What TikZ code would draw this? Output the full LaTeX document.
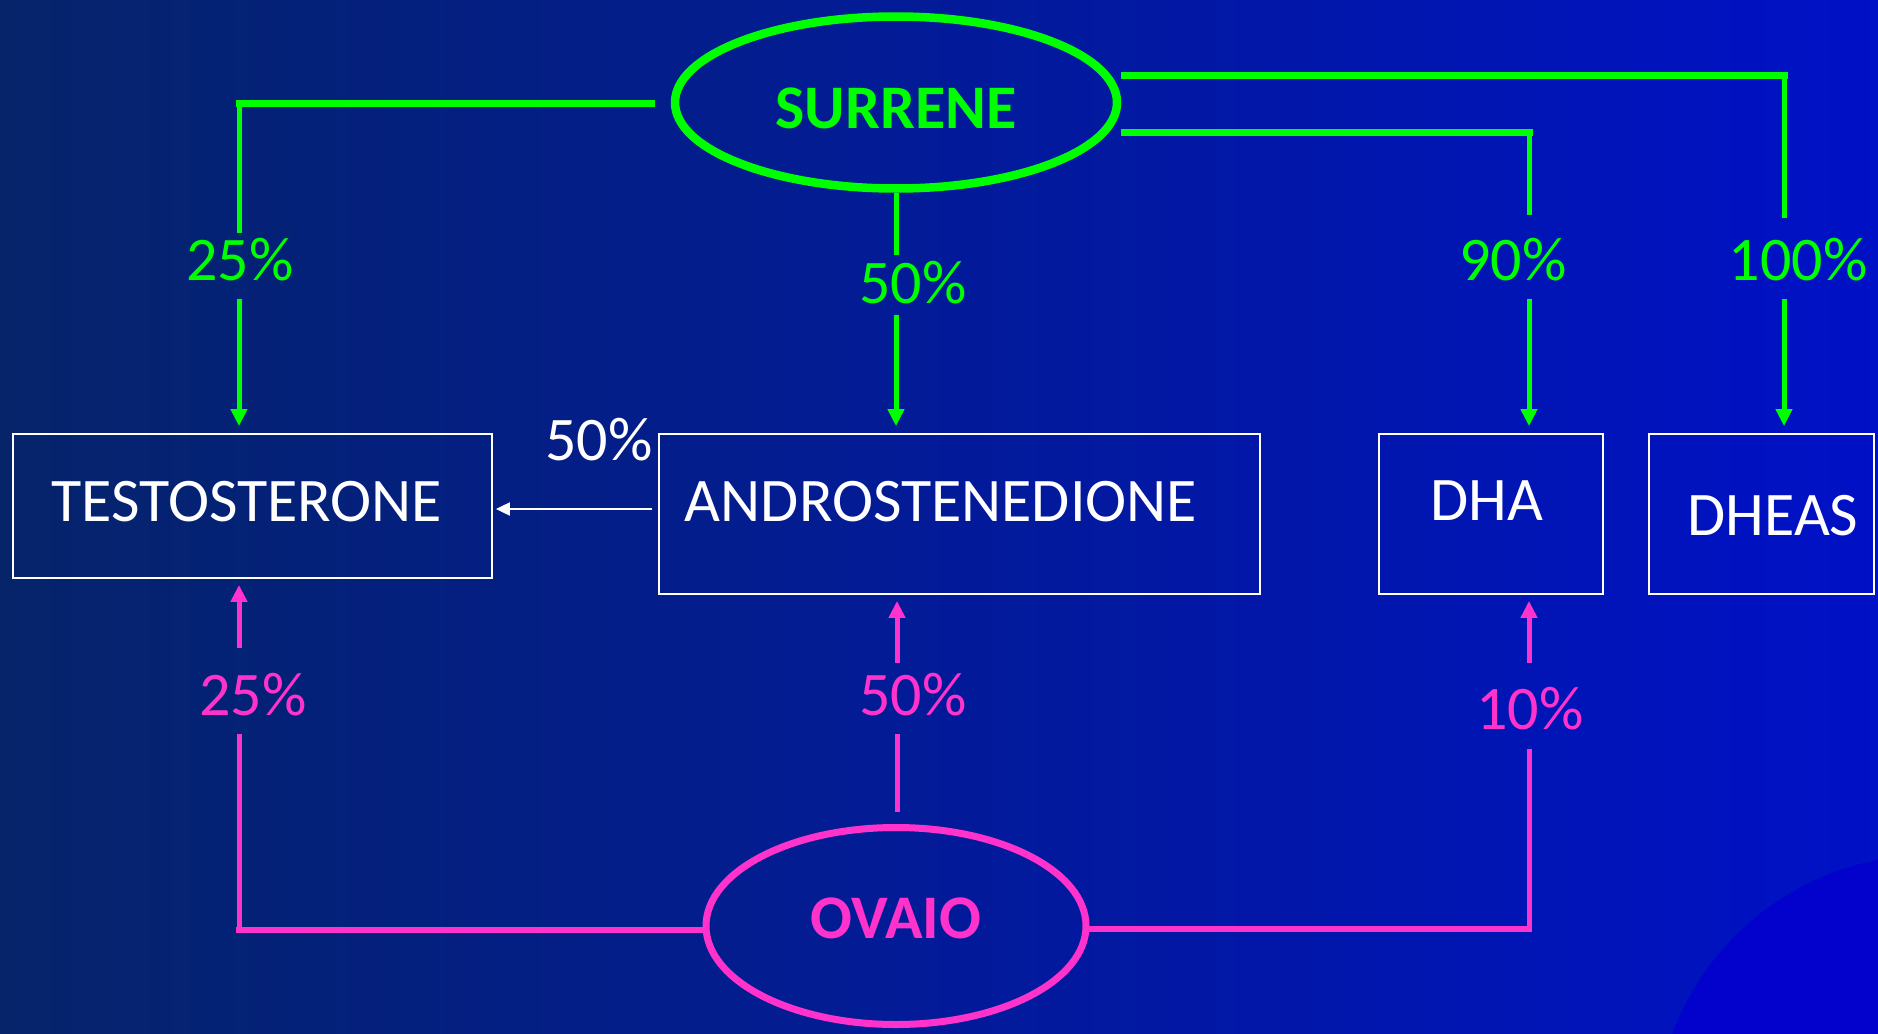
\documentclass[tikz,border=0pt]{standalone}
\usepackage{fontspec}
\setmainfont{Carlito}
\usetikzlibrary{arrows.meta,shapes.geometric,calc}
\definecolor{bgL}{HTML}{05246A}
\definecolor{bgM}{HTML}{001B9E}
\definecolor{bgR}{HTML}{0011C6}
\definecolor{bgC}{HTML}{0202CC}
\definecolor{grn}{HTML}{00FF00}
\definecolor{pnk}{HTML}{FF33CC}
\begin{document}
\begin{tikzpicture}[x=1pt,y=-1pt,
  txt/.style={font=\fontsize{62}{70}\selectfont, inner sep=0pt, anchor=base},
  btxt/.style={font=\fontsize{62}{70}\selectfont\bfseries},
  box/.style={draw=white, line width=1.8pt, rectangle, inner sep=0pt},
  gh/.style={draw=grn, line width=7pt, line cap=rect},
  gv/.style={draw=grn, line width=5pt},
  garr/.style={gv, -{Triangle[width=16pt,length=17pt]}, shorten >=7pt},
  ph/.style={draw=pnk, line width=5.5pt, line cap=rect},
  pv/.style={draw=pnk, line width=5pt},
  parr/.style={pv, -{Triangle[width=16pt,length=17pt]}, shorten >=6pt},
  warr/.style={draw=white, line width=2pt, -{Triangle[width=13pt,length=14pt]}, shorten >=3pt}
]
\useasboundingbox (0,0) rectangle (1878,1033);
\shade[left color=bgL, middle color=bgM, right color=bgR] (0,0) rectangle (1878,1033);
\fill[bgC] (1930,1130) circle (275);

% ellipses
\node[ellipse, draw=grn, line width=8.5pt, minimum width=442pt, minimum height=172pt,
      inner sep=0pt, text=grn, btxt, text height=51pt, text depth=0pt] (sur) at (896,102.5) {SURRENE\hspace{12pt}};
\node[ellipse, draw=pnk, line width=7pt, minimum width=380pt, minimum height=197pt,
      inner sep=0pt, text=pnk, btxt, text height=40pt, text depth=16pt] (ova) at (896,926) {OVAIO\hspace{22pt}};

% boxes
\node[box, minimum width=479pt, minimum height=144pt] (testo) at (252.5,506) {};
\node[box, minimum width=601pt, minimum height=160pt] (andro) at (959.5,514) {};
\node[box, minimum width=224pt, minimum height=160pt] (dha) at (1491,514) {};
\node[box, minimum width=225pt, minimum height=160pt] (dheas) at (1761.5,514) {};

\node[txt, text=white] (testot) at (247,521) {TESTOSTERONE};
\node[txt, text=white] (androt) at (941,521) {ANDROSTENEDIONE};
\node[txt, text=white] (dhat) at (1487,520) {DHA};
\node[txt, text=white] (dheast) at (1773,535) {DHEAS};

% labels
\node[txt, text=grn] (g25) at (240,280) {25\%};
\node[txt, text=grn] (g50) at (913,303) {50\%};
\node[txt, text=grn] (g90) at (1513,280) {90\%};
\node[txt, text=grn] (g100) at (1798,280) {100\%};
\node[txt, text=white] (w50) at (599,460) {50\%};
\node[txt, text=pnk] (p25) at (253,715) {25\%};
\node[txt, text=pnk] (p50) at (913,715) {50\%};
\node[txt, text=pnk] (p10) at (1530,729) {10\%};

% coordinates
\coordinate (gL1) at (239,103);
\coordinate (gL2) at (239,233);
\coordinate (gL3) at (239,299);
\coordinate (gC1) at (896,255);
\coordinate (gC2) at (896,315);
\coordinate (gR1) at (1784,75);
\coordinate (gR2) at (1784,218);
\coordinate (gR3) at (1784,299);
\coordinate (gQ1) at (1529,132);
\coordinate (gQ2) at (1529,215);
\coordinate (gQ3) at (1529,299);
\coordinate (pL1) at (239,930);
\coordinate (pL2) at (239,734);
\coordinate (pL3) at (239,648);
\coordinate (pC1) at (897,734);
\coordinate (pC2) at (897,663);
\coordinate (pR1) at (1529,929);
\coordinate (pR2) at (1529,749);
\coordinate (pR3) at (1529,663);

% green connectors
\draw[gh] ($(sur.west)+(-19,0.5)$) -- (gL1);
\draw[gv] (gL1) -- (gL2);
\draw[garr] (gL3) -- (gL3 |- testo.north);

\draw[gv] (sur.south) -- (gC1);
\draw[garr] (gC2) -- (gC2 |- andro.north);

\draw[gh] ($(sur.center)+(228,-27.5)$) -- (gR1);
\draw[gv] (gR1) -- (gR2);
\draw[garr] (gR3) -- (gR3 |- dheas.north);

\draw[gh] ($(sur.center)+(228,29.5)$) -- (gQ1);
\draw[gv] (gQ1) -- (gQ2);
\draw[garr] (gQ3) -- (gQ3 |- dha.north);

% white arrow
\draw[warr] ($(andro.west)+(-6,-5)$) -- ($(testo.east)+(0,3)$);

% pink connectors
\draw[ph] ($(ova.west)+(0,4)$) -- (pL1);
\draw[pv] (pL1) -- (pL2);
\draw[parr] (pL3) -- (pL3 |- testo.south);

\draw[pv] ($(ova.north)+(1,-12.5)$) -- (pC1);
\draw[parr] (pC2) -- (pC2 |- andro.south);

\draw[ph] ($(ova.east)+(0,3)$) -- (pR1);
\draw[pv] (pR1) -- (pR2);
\draw[parr] (pR3) -- (pR3 |- dha.south);
\end{tikzpicture}
\end{document}
